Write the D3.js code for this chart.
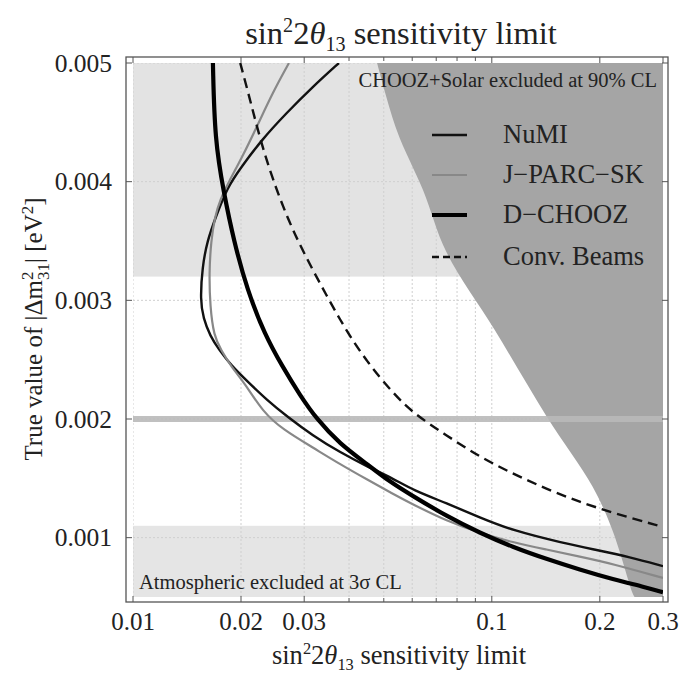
<!DOCTYPE html>
<html><head><meta charset="utf-8">
<script src="https://cdn.jsdelivr.net/npm/d3@7"></script>
<style>body{margin:0;background:#fff}svg text{font-family:"Liberation Serif","DejaVu Serif",serif;fill:#222}</style>
</head><body><svg id="c" width="679" height="675"></svg>
<script>
// ---- data ----
const xTickValues = [0.01, 0.02, 0.03, 0.1, 0.2, 0.3];
const xTickLabels = ["0.01", "0.02", "0.03", "0.1", "0.2", "0.3"];
const xGridValues = [0.01,0.02,0.03,0.04,0.05,0.06,0.07,0.08,0.09,0.1,0.2,0.3];
const yTickValues = [0.001, 0.002, 0.003, 0.004, 0.005];
const yTickLabels = ["0.001", "0.002", "0.003", "0.004", "0.005"];
const seriesNames = ["NuMI", "J\u2212PARC\u2212SK", "D\u2212CHOOZ", "Conv. Beams"];

const numi = [[0.0375,0.005],[0.0317,0.0048],[0.0268,0.00458],[0.0228,0.00435],[0.02,0.00412],[0.0183,0.00395],
 [0.017,0.0037],[0.0161,0.0035],[0.0156,0.00328],[0.0154,0.003],[0.0157,0.00285],[0.0164,0.0027],[0.0174,0.00258],
 [0.0188,0.00245],[0.0208,0.00232],[0.0236,0.00216],[0.0269,0.00202],[0.0317,0.00186],[0.0377,0.00172],[0.0449,0.0016],
 [0.053,0.0015],[0.0603,0.0014],[0.0749,0.00129],[0.0926,0.00117],[0.1144,0.00106],[0.158,0.000955],[0.196,0.000896],
 [0.242,0.000837],[0.3,0.00076]];
const jparc = [[0.0272,0.005],[0.0245,0.00475],[0.0222,0.00447],[0.0201,0.0042],[0.0185,0.004],[0.0175,0.00385],
 [0.0169,0.0037],[0.0165,0.0035],[0.0163,0.00323],[0.0164,0.00295],[0.0168,0.0027],[0.0176,0.00258],[0.0188,0.00244],
 [0.0205,0.0023],[0.023,0.00206],[0.0262,0.00191],[0.0317,0.00176],[0.0377,0.00162],[0.0449,0.00149],[0.053,0.00137],
 [0.0603,0.00128],[0.0749,0.00114],[0.0926,0.00104],[0.1144,0.00096],[0.142,0.0009],[0.176,0.00084],[0.217,0.00078],[0.3,0.00066]];
const dchooz = [[0.0167,0.005],[0.0169,0.00435],[0.0179,0.00391],[0.0191,0.0035],[0.0208,0.00309],[0.0233,0.00271],
 [0.026,0.00245],[0.0292,0.0022],[0.0325,0.002],[0.0377,0.00179],[0.0449,0.00162],[0.052,0.00147],[0.0603,0.00135],
 [0.0749,0.00118],[0.0926,0.00104],[0.1144,0.00092],[0.142,0.00082],[0.176,0.00073],[0.217,0.00065],[0.27,0.00058],[0.3,0.00054]];
const convBeams = [[0.0199,0.005],[0.0212,0.00469],[0.0226,0.00436],[0.0245,0.00402],[0.0272,0.00366],[0.0305,0.00335],
 [0.0345,0.00305],[0.039,0.00276],[0.0449,0.00248],[0.053,0.00222],[0.0603,0.00205],[0.0749,0.00186],[0.0926,0.00168],
 [0.1144,0.00154],[0.142,0.00141],[0.176,0.0013],[0.217,0.00121],[0.3,0.00109]];
const choozSolarEdge = [[0.0479,0.005],[0.0544,0.00443],[0.0643,0.00393],[0.0749,0.0034],[0.1019,0.00275],[0.1423,0.00202],
 [0.191,0.00143],[0.217,0.00106],[0.247,0.00053],[0.25,0.0005]];
const atmBand = [0.0005, 0.0011];
const upperBand = [0.0032, 0.005];
const lineBand = 0.002;

// ---- layout ----
const svg = d3.select("#c");
const x = d3.scaleLog().domain([0.01, 0.3]).range([133, 663]);
const y = d3.scaleLinear().domain([0.0005, 0.005]).range([597, 63]);
const fr = {l:126, r:668, t:57, b:602};

svg.append("clipPath").attr("id","clip").append("rect")
  .attr("x", x(0.01)).attr("y", y(0.005)).attr("width", x(0.3)-x(0.01)).attr("height", y(0.0005)-y(0.005));
const plot = svg.append("g").attr("clip-path","url(#clip)");

// bands
plot.append("rect").attr("x", x(0.01)).attr("width", x(0.3)-x(0.01))
  .attr("y", y(upperBand[1])).attr("height", y(upperBand[0])-y(upperBand[1])).attr("fill","#e3e3e3");
plot.append("rect").attr("x", x(0.01)).attr("width", x(0.3)-x(0.01))
  .attr("y", y(atmBand[1])).attr("height", y(atmBand[0])-y(atmBand[1])).attr("fill","#e5e5e5");

// grid
plot.selectAll(".gx").data(xGridValues).join("line")
  .attr("x1", d=>x(d)).attr("x2", d=>x(d)).attr("y1", y(0.005)).attr("y2", y(0.0005))
  .attr("stroke","#cfcfcf").attr("stroke-width",1).attr("stroke-dasharray","2,2");
plot.selectAll(".gy").data(yTickValues).join("line")
  .attr("y1", d=>y(d)).attr("y2", d=>y(d)).attr("x1", x(0.01)).attr("x2", x(0.3))
  .attr("stroke","#cfcfcf").attr("stroke-width",1).attr("stroke-dasharray","2,2");

// CHOOZ+Solar region
const edgeLine = d3.line().x(d=>x(d[0])).y(d=>y(d[1])).curve(d3.curveCatmullRom.alpha(0.5));
const edgePath = edgeLine(choozSolarEdge);
plot.append("path")
  .attr("d", edgePath + "L" + x(0.3) + "," + y(0.0005) + "L" + x(0.3) + "," + y(0.005) + "Z")
  .attr("fill","#a5a5a5");

// 0.002 band
plot.append("line").attr("x1", x(0.01)).attr("x2", x(0.3)).attr("y1", y(lineBand)).attr("y2", y(lineBand))
  .attr("stroke","#bababa").attr("stroke-width",6).attr("opacity",0.9);

// curves
const line = d3.line().x(d=>x(d[0])).y(d=>y(d[1])).curve(d3.curveBasis);
const styles = [
  {data: numi, color:"#111", w:2.4, dash:null},
  {data: jparc, color:"#888", w:2.2, dash:null},
  {data: dchooz, color:"#000", w:4.2, dash:null},
  {data: convBeams, color:"#111", w:2.4, dash:"10,6"}
];
styles.forEach(s=>{
  plot.append("path").datum(s.data).attr("d", line).attr("fill","none")
    .attr("stroke", s.color).attr("stroke-width", s.w).attr("stroke-dasharray", s.dash);
});

// frame
svg.append("rect").attr("x",fr.l).attr("y",fr.t).attr("width",fr.r-fr.l).attr("height",fr.b-fr.t)
  .attr("fill","none").attr("stroke","#555").attr("stroke-width",1.3);
// ticks
svg.selectAll(".tb").data(xGridValues).join("line")
  .attr("x1",d=>x(d)).attr("x2",d=>x(d)).attr("y1",fr.b).attr("y2",d=>xTickValues.includes(d)?fr.b-6:fr.b-4)
  .attr("stroke","#555");
svg.selectAll(".tt").data(xGridValues).join("line")
  .attr("x1",d=>x(d)).attr("x2",d=>x(d)).attr("y1",fr.t).attr("y2",d=>xTickValues.includes(d)?fr.t+6:fr.t+4)
  .attr("stroke","#555");
svg.selectAll(".tl").data(yTickValues).join("line")
  .attr("y1",d=>y(d)).attr("y2",d=>y(d)).attr("x1",fr.l).attr("x2",fr.l+6).attr("stroke","#555");
svg.selectAll(".tr").data(yTickValues).join("line")
  .attr("y1",d=>y(d)).attr("y2",d=>y(d)).attr("x1",fr.r).attr("x2",fr.r-6).attr("stroke","#555");

// tick labels
svg.selectAll(".xl").data(xTickValues).join("text")
  .attr("x",d=>x(d)).attr("y",630).attr("text-anchor","middle").attr("font-size",25)
  .text((d,i)=>xTickLabels[i]);
svg.selectAll(".yl").data(yTickValues).join("text")
  .attr("x",112).attr("y",d=>y(d)+8.5).attr("text-anchor","end").attr("font-size",25.5)
  .text((d,i)=>yTickLabels[i]);

// title / axis label
function sinLabel(g, cx, cy, fs){
  const t = g.append("text").attr("x",cx).attr("y",cy).attr("text-anchor","middle").attr("font-size",fs);
  t.append("tspan").text("sin");
  t.append("tspan").attr("dy",-fs*0.36).attr("font-size",fs*0.62).text("2");
  t.append("tspan").attr("dy",fs*0.36).text("2");
  t.append("tspan").attr("font-style","italic").text("\u03b8");
  t.append("tspan").attr("dy",fs*0.22).attr("font-size",fs*0.62).text("13");
  t.append("tspan").attr("dy",-fs*0.22).text(" sensitivity limit");
}
sinLabel(svg, 401, 44, 32.5);
sinLabel(svg, 399, 664, 26.5);

// y label
const yl = svg.append("text").attr("transform","translate(42,329) rotate(-90)").attr("text-anchor","middle").attr("font-size",25);
yl.append("tspan").text("True value of |\u0394m");
yl.append("tspan").attr("dy",-9).attr("font-size",17).text("2");
yl.append("tspan").attr("dx",-8.5).attr("dy",16).attr("font-size",17).text("31");
yl.append("tspan").attr("dy",-7).text("| [eV");
yl.append("tspan").attr("dy",-9).attr("font-size",17).text("2");
yl.append("tspan").attr("dy",9).text("]");

// region labels
svg.append("text").attr("x",657).attr("y",87).attr("text-anchor","end").attr("font-size",20.5).text("CHOOZ+Solar excluded at 90% CL");
svg.append("text").attr("x",139).attr("y",589).attr("font-size",20.5).text("Atmospheric excluded at 3\u03c3 CL");

// legend
const lg = svg.append("g");
const rows = [135, 175, 215, 257];
styles.forEach((s,i)=>{
  lg.append("line").attr("x1",432).attr("x2",467).attr("y1",rows[i]).attr("y2",rows[i])
    .attr("stroke",s.color).attr("stroke-width",s.w).attr("stroke-dasharray",s.dash?"7,4":null);
  lg.append("text").attr("x",503).attr("y",rows[i]+8).attr("font-size",26.5).text(seriesNames[i]);
});
</script></body></html>
